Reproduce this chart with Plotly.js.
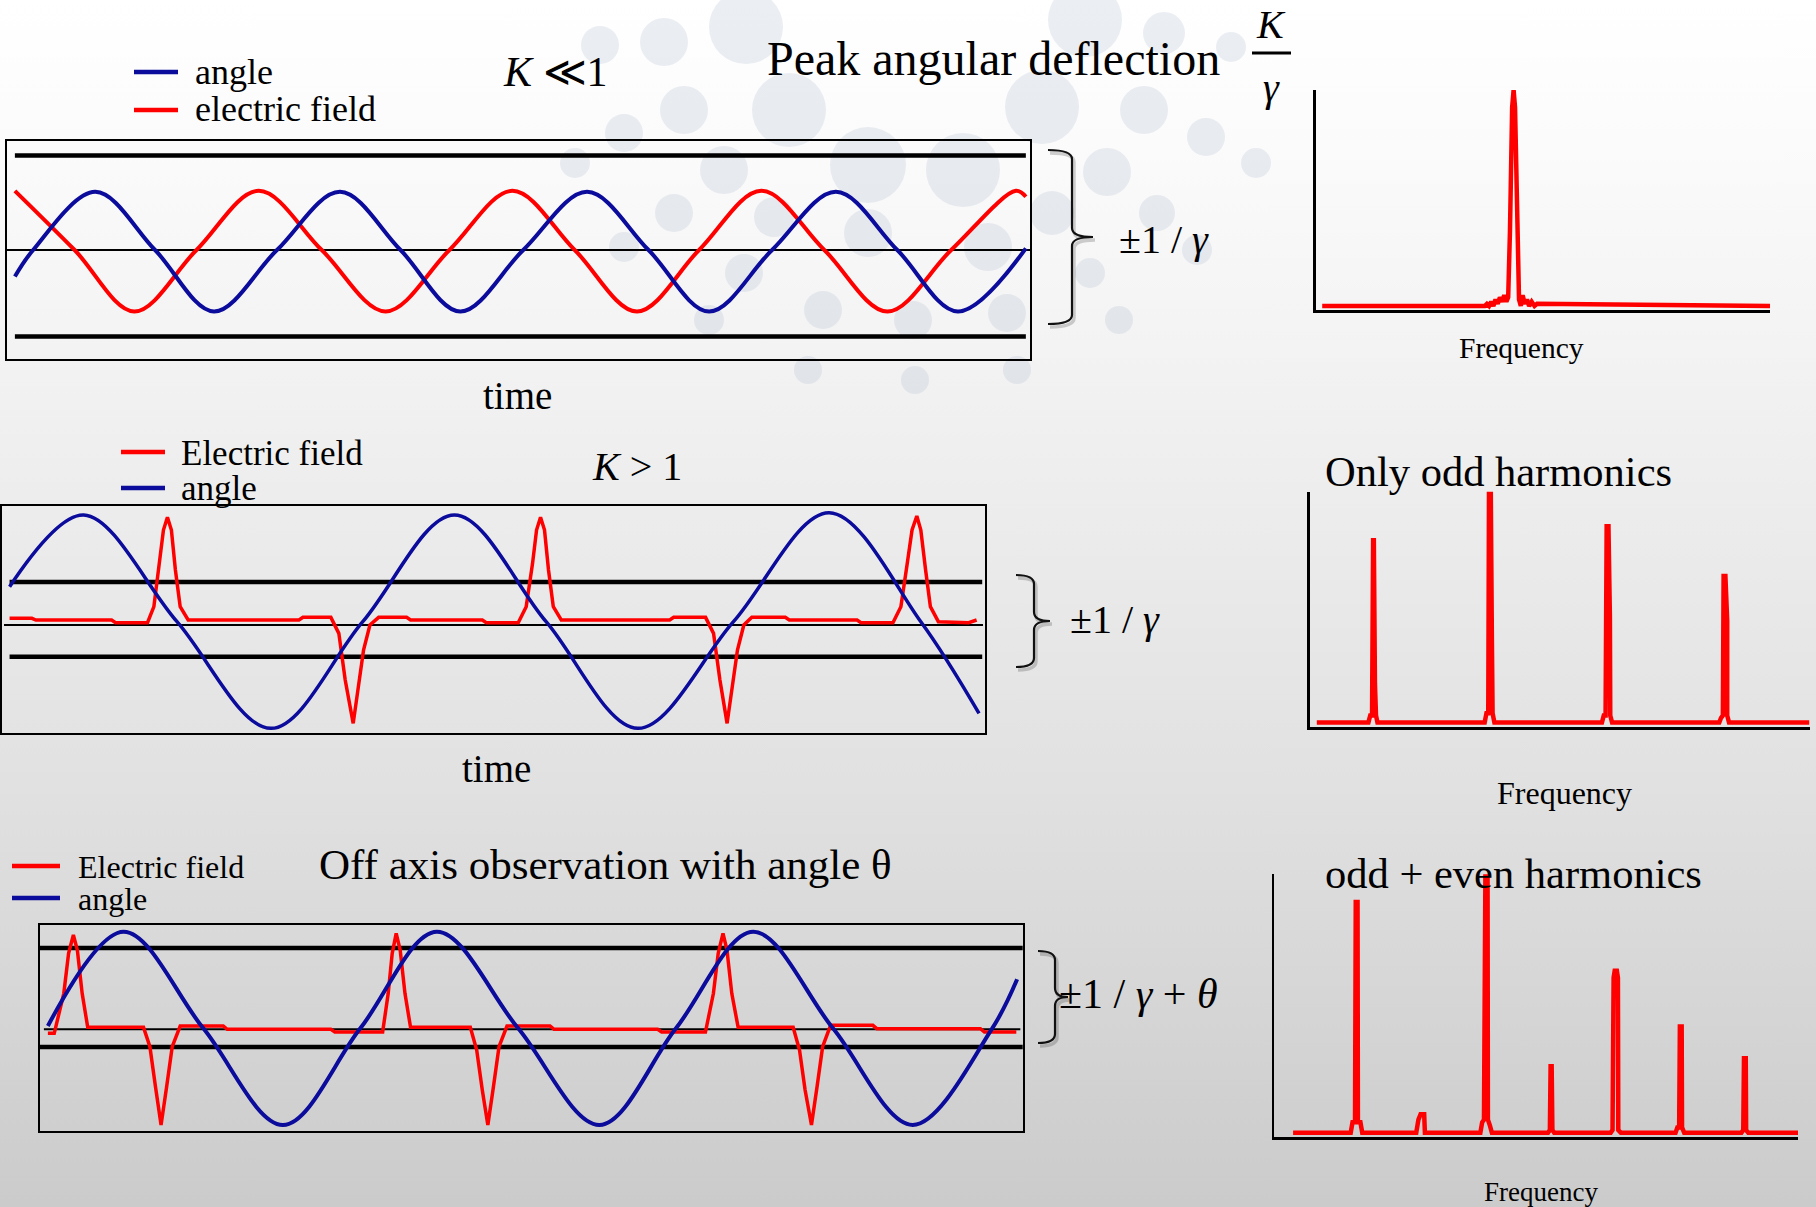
<!DOCTYPE html>
<html>
<head>
<meta charset="utf-8">
<script src="https://cdn.plot.ly/plotly-3.0.1.min.js"></script>
<style>
  html, body { margin: 0; padding: 0; }
  #chart {
    width: 1816px; height: 1207px;
    background: linear-gradient(to bottom, #ffffff 0%, #fbfbfb 12%, #f0f0f0 35%, #e1e1e1 65%, #cbcbcb 100%);
  }
</style>
</head>
<body>
<div id="chart"></div>
<script>
// ---------- Panel 1: K << 1, angle and field are both sinusoidal ----------
const p1AngleT = [0.18, 0.40, 1.15, 1.87, 2.58, 3.34, 4.10, 4.83, 5.55, 6.31, 7.08, 7.82, 8.55, 9.31, 10.08, 10.82, 11.55, 12.37];
const p1AngleV = [-0.80, 0, 1.75, 0, -1.85, 0, 1.75, 0, -1.85, 0, 1.75, 0, -1.85, 0, 1.75, 0, -1.85, 0.05];
const p1FieldT = [0.18, 0.90, 1.62, 2.37, 3.12, 3.88, 4.65, 5.42, 6.18, 6.93, 7.68, 8.43, 9.18, 9.94, 10.70, 11.47, 12.25, 12.37];
const p1FieldV = [1.78, 0, -1.85, 0, 1.78, 0, -1.85, 0, 1.78, 0, -1.85, 0, 1.78, 0, -1.85, 0, 1.78, 1.60];
const p1Bounds = [2.84, -2.60];          // ±1/γ cone
const p1BoundSpan = [0.18, 12.37];
const p1Center = 0;
const p1CenterSpan = [0.08, 12.42];

// ---------- Panel 2: K > 1, field concentrated in short pulses ----------
const p2AngleT = [0.12, 1.05, 2.22, 3.40, 4.55, 5.70, 6.85, 8.00, 9.20, 10.40, 11.55, 12.28];
const p2AngleV = [1.05, 3.20, 0, -3.20, 0, 3.20, 0, -3.20, 0, 3.27, 0, -2.75];
const p2FieldT = [0.12, 0.40, 0.45, 1.40, 1.45, 1.85, 1.93, 2.00, 2.05, 2.10, 2.15, 2.20, 2.26, 2.36,
  3.75, 3.80, 4.15, 4.25, 4.33, 4.43, 4.50, 4.56, 4.64, 4.75, 5.10, 5.15, 6.05, 6.10, 6.50,
  6.60, 6.68, 6.73, 6.78, 6.83, 6.88, 6.94, 7.04, 8.40, 8.45, 8.85, 8.95, 9.03, 9.12, 9.19,
  9.25, 9.33, 9.43, 9.85, 9.90, 10.75, 10.80, 11.20, 11.30, 11.38, 11.44, 11.50, 11.55, 11.61,
  11.67, 11.77, 12.15, 12.25];
const p2FieldV = [0.10, 0.10, 0.05, 0.05, -0.03, -0.03, 0.45, 1.75, 2.75, 3.13, 2.75, 1.55, 0.45, 0.05,
  0.05, 0.13, 0.13, -0.35, -1.75, -3.05, -1.95, -0.85, -0.10, 0.13, 0.13, 0.05, 0.05, -0.03, -0.03,
  0.45, 1.75, 2.75, 3.13, 2.75, 1.55, 0.45, 0.05, 0.05, 0.13, 0.13, -0.35, -1.75, -3.05, -1.95,
  -0.85, -0.10, 0.13, 0.13, 0.05, 0.05, -0.03, -0.03, 0.45, 1.75, 2.75, 3.17, 2.75, 1.55,
  0.45, 0.00, -0.03, 0.05];
const p2Bounds = [1.19, -1.05];
const p2BoundSpan = [0.12, 12.32];
const p2Center = -0.10;
const p2CenterSpan = [0.05, 12.33];

// ---------- Panel 3: off-axis observation at angle θ ----------
const p3AngleT = [0.60, 1.55, 2.55, 3.55, 4.52, 5.48, 6.50, 7.52, 8.48, 9.45, 10.45, 11.45, 12.44, 12.76];
const p3AngleV = [0.10, 2.93, 0.03, -2.87, 0.03, 2.93, 0.03, -2.87, 0.03, 2.93, 0.03, -2.87, 0.0, 1.50];
const p3FieldT = [0.60, 0.68, 0.80, 0.86, 0.92, 0.97, 1.03, 1.10, 1.80, 1.88, 1.95, 2.02, 2.09, 2.16, 2.26,
  2.80, 2.85, 4.15, 4.20, 4.80, 4.87, 4.92, 4.97, 5.02, 5.08, 5.15, 5.90, 5.98, 6.05, 6.12, 6.19,
  6.26, 6.36, 6.90, 6.95, 8.25, 8.30, 8.85, 8.95, 9.01, 9.07, 9.12, 9.18, 9.26, 9.95, 10.03,
  10.10, 10.18, 10.25, 10.32, 10.42, 10.95, 11.00, 12.30, 12.35, 12.75];
const p3FieldV = [-0.12, -0.12, 1.08, 2.28, 2.83, 2.38, 1.08, 0.06, 0.06, -0.52, -1.72, -2.87, -1.72, -0.52, 0.10,
  0.10, 0.00, 0.00, -0.08, -0.08, 1.08, 2.28, 2.88, 2.38, 1.08, 0.06, 0.06, -0.62, -1.82, -2.87, -1.72,
  -0.52, 0.10, 0.10, 0.00, 0.00, -0.08, -0.08, 1.08, 2.28, 2.88, 2.38, 1.08, 0.06, 0.06, -0.62,
  -1.82, -2.87, -1.72, -0.52, 0.12, 0.12, 0.02, 0.02, -0.08, -0.08];
const p3Bounds = [2.44, -0.53];         // ±(1/γ + θ) window
const p3BoundSpan = [0.48, 12.88];
const p3Center = 0;
const p3CenterSpan = [0.55, 12.80];

// ---------- Spectra ----------
const s1Freq = [2.00, 6.50, 6.56, 6.62, 6.68, 6.74, 6.80, 6.86, 6.92, 6.98, 7.04, 7.10, 7.15, 7.20, 7.26, 7.30,
  7.34, 7.40, 7.45, 7.50, 7.55, 7.61, 7.67, 7.73, 7.80, 7.88, 7.95, 14.40];
const s1Amp = [0, 0, 0.01, 0.0, 0.02, 0.0, 0.03, 0.01, 0.04, 0.02, 0.05, 0.02, 0.04, 0.35, 0.92, 1.0,
  0.92, 0.35, 0.03, 0.0, 0.05, 0.01, 0.03, 0.0, 0.02, 0.0, 0.01, 0];

const s2Freq = [1.85, 3.28, 3.33, 3.38, 3.41, 3.43, 3.46, 3.49, 3.53,
  6.50, 6.55, 6.60, 6.62, 6.67, 6.70, 6.72, 6.77,
  9.75, 9.80, 9.85, 9.88, 9.93, 9.97, 9.98, 10.03,
  13.00, 13.05, 13.10, 13.12, 13.17, 13.22, 13.22, 13.27, 15.50];
const s2Amp = [0, 0, 0.03, 0.03, 0.79, 0.79, 0.17, 0.03, 0,
  0, 0.04, 0.04, 1.0, 1.0, 0.37, 0.04, 0,
  0, 0.03, 0.03, 0.85, 0.85, 0.46, 0.03, 0,
  0, 0.02, 0.03, 0.635, 0.635, 0.44, 0.03, 0, 0];

const s3Freq = [1.20, 2.80, 2.85, 2.92, 2.94, 2.99, 3.00, 3.07, 3.12,
  4.62, 4.68, 4.74, 4.84, 4.86,
  6.40, 6.45, 6.50, 6.54, 6.60, 6.61, 6.66, 6.72,
  8.28, 8.33, 8.35, 8.38, 8.40, 8.45,
  10.02, 10.07, 10.10, 10.13, 10.19, 10.22, 10.23, 10.30,
  11.82, 11.87, 11.92, 11.94, 11.99, 12.00, 12.06,
  13.65, 13.70, 13.72, 13.77, 13.78, 13.84, 15.22];
const s3Amp = [0, 0, 0.04, 0.04, 0.893, 0.893, 0.04, 0.04, 0,
  0, 0.05, 0.071, 0.071, 0,
  0, 0.04, 0.05, 1.0, 1.0, 0.05, 0.03, 0,
  0, 0.01, 0.257, 0.257, 0.01, 0,
  0, 0.01, 0.60, 0.627, 0.627, 0.60, 0.01, 0,
  0, 0.02, 0.02, 0.411, 0.411, 0.02, 0,
  0, 0.01, 0.288, 0.288, 0.01, 0, 0];

// ---------- Page geometry helpers (pixel -> paper) ----------
const W = 1816, H = 1207;
const PX = x => x / W;
const PY = y => 1 - y / H;
const BLUE = '#0b0b9c', RED = '#ff0000';
const SERIF = 'Liberation Serif, Times New Roman, serif';

function line(xa, ya, x, y, color, width, shape) {
  return { type: 'scatter', mode: 'lines', x, y, xaxis: xa, yaxis: ya, hoverinfo: 'skip',
    line: { color, width, shape: shape || 'linear', smoothing: 1 } };
}
function guides(xa, ya, bounds, span, center, cspan) {
  return [
    line(xa, ya, span, [bounds[0], bounds[0]], '#000', 4.5),
    line(xa, ya, span, [bounds[1], bounds[1]], '#000', 4.5),
    line(xa, ya, cspan, [center, center], '#000', 2)
  ];
}

const traces = [
  ...guides('x', 'y', p1Bounds, p1BoundSpan, p1Center, p1CenterSpan),
  line('x', 'y', p1FieldT, p1FieldV, RED, 4, 'spline'),
  line('x', 'y', p1AngleT, p1AngleV, BLUE, 4, 'spline'),

  ...guides('x2', 'y2', p2Bounds, p2BoundSpan, p2Center, p2CenterSpan),
  line('x2', 'y2', p2FieldT, p2FieldV, RED, 3.5),
  line('x2', 'y2', p2AngleT, p2AngleV, BLUE, 3.5, 'spline'),

  ...guides('x3', 'y3', p3Bounds, p3BoundSpan, p3Center, p3CenterSpan),
  line('x3', 'y3', p3FieldT, p3FieldV, RED, 3.5),
  line('x3', 'y3', p3AngleT, p3AngleV, BLUE, 4, 'spline'),

  line('x4', 'y4', s1Freq, s1Amp, RED, 4.5),
  line('x5', 'y5', s2Freq, s2Amp, RED, 4.5),
  line('x6', 'y6', s3Freq, s3Amp, RED, 4.5)
];

// axis builders: framed time panels and L-shaped spectrum panels
function boxAxis(d0, d1, range, anchor, isY) {
  return { domain: isY ? [PY(d1), PY(d0)] : [PX(d0), PX(d1)], range, anchor,
    showline: true, mirror: true, linecolor: '#000', linewidth: 2,
    showgrid: false, zeroline: false, showticklabels: false, ticks: '', fixedrange: true };
}
function lAxis(d0, d1, range, anchor, isY) {
  return { domain: isY ? [PY(d1), PY(d0)] : [PX(d0), PX(d1)], range, anchor,
    showline: true, mirror: false, linecolor: '#000', linewidth: 2.5,
    showgrid: false, zeroline: false, showticklabels: false, ticks: '', fixedrange: true };
}

// decorative bubbles behind the top panel (cx, cy, r in px)
const bubbles = [[746,27,37],[664,42,24],[600,45,19],[1085,20,37],[1164,33,21],[1231,47,15],
  [789,110,37],[684,110,24],[624,133,19],[1042,107,37],[1144,110,24],[1206,137,19],[1256,163,15],
  [868,165,38],[963,170,37],[724,170,24],[1107,172,24],[575,163,15],
  [674,213,19],[774,217,20],[868,233,24],[1052,213,22],[1157,213,18],[624,247,15],[988,247,24],[1197,250,15],
  [744,273,19],[1090,273,15],[823,310,19],[913,320,19],[1007,313,19],[1119,320,14],[709,320,15],
  [808,370,14],[915,380,14],[1017,370,14]];

const shapes = bubbles.map(([cx, cy, r]) => ({
  type: 'circle', xref: 'paper', yref: 'paper', layer: 'below',
  x0: PX(cx - r), x1: PX(cx + r), y0: PY(cy + r), y1: PY(cy - r),
  fillcolor: 'rgba(172,185,205,0.24)', line: { width: 0 }
}));

function seg(x0, x1, y, color, width) {
  return { type: 'line', xref: 'paper', yref: 'paper', x0: PX(x0), x1: PX(x1), y0: PY(y), y1: PY(y),
    line: { color, width } };
}
// legend swatches
shapes.push(seg(134, 178, 72, BLUE, 4.5), seg(134, 178, 110, RED, 4.5));
shapes.push(seg(121, 165, 452, RED, 4.5), seg(121, 165, 488, BLUE, 4.5));
shapes.push(seg(12, 60, 866, RED, 4.5), seg(12, 60, 898, BLUE, 4.5));
// fraction bar of K/γ
shapes.push(seg(1252, 1291, 53, '#000', 3));

// curly braces marking the angular window
function brace(x0, xv, xt, yT, yM, yB, r, color, width, dx, dy) {
  const P = (x, y) => `${PX(x + dx)},${PY(y + dy)}`;
  const path = `M ${P(x0, yT)} Q ${P(xv, yT)} ${P(xv, yT + r)} L ${P(xv, yM - r)} ` +
    `Q ${P(xv, yM)} ${P(xt, yM)} Q ${P(xv, yM)} ${P(xv, yM + r)} L ${P(xv, yB - r)} ` +
    `Q ${P(xv, yB)} ${P(x0, yB)}`;
  return { type: 'path', xref: 'paper', yref: 'paper', path, line: { color, width } };
}
[[1048, 1072, 1093, 150, 237, 324], [1016, 1034, 1050, 575, 621, 667], [1038, 1055, 1068, 951, 997, 1043]]
  .forEach(b => {
    shapes.push(brace(...b, 9, 'rgba(0,0,0,0.18)', 3.5, 2, 3));
    shapes.push(brace(...b, 9, '#111', 2.2, 0, 0));
  });

function txt(text, x, y, size, xanchor) {
  return { text, x: PX(x), y: PY(y), xref: 'paper', yref: 'paper', showarrow: false,
    xanchor: xanchor || 'left', yanchor: 'middle', font: { family: SERIF, size, color: '#000' } };
}
const annotations = [
  txt('angle', 193, 72, 36), txt('electric field', 193, 109, 36),
  txt('<i>K</i> ≪1', 501, 72, 42),
  txt('Peak angular deflection', 765, 58, 48),
  txt('<i>K</i>', 1271, 24, 40, 'center'), txt('<i>γ</i>', 1271, 87, 40, 'center'),
  txt('±1 / <i>γ</i>', 1117, 240, 40),
  txt('time', 517, 395, 39, 'center'),
  txt('Frequency', 1521, 348, 29.5, 'center'),

  txt('Electric field', 179, 453, 35), txt('angle', 179, 488, 35),
  txt('<i>K</i> > 1', 590, 466, 40),
  txt('±1 / <i>γ</i>', 1068, 619, 40),
  txt('time', 496, 768, 39, 'center'),
  txt('Only odd harmonics', 1323, 472, 42.5),
  txt('Frequency', 1564, 793, 32, 'center'),

  txt('Electric field', 76, 867, 32), txt('angle', 76, 899, 32),
  txt('Off axis observation with angle θ', 317, 864, 43),
  txt('±1 / <i>γ</i> + <i>θ</i>', 1057, 994, 42),
  txt('odd + even harmonics', 1323, 873, 42.5),
  txt('Frequency', 1541, 1192, 27, 'center')
];

const layout = {
  width: W, height: H, autosize: false,
  margin: { l: 0, r: 0, t: 0, b: 0, pad: 0 },
  paper_bgcolor: 'rgba(0,0,0,0)', plot_bgcolor: 'rgba(0,0,0,0)',
  showlegend: false,
  xaxis:  boxAxis(6.6, 1030, [0.08, 12.42], 'y'),
  yaxis:  boxAxis(141, 359, [-3.28, 3.28], 'x', true),
  xaxis2: boxAxis(2.4, 984.6, [0.03, 12.35], 'y2'),
  yaxis2: boxAxis(506, 732.7, [-3.33, 3.47], 'x2', true),
  xaxis3: boxAxis(39.9, 1022.7, [0.50, 12.83], 'y3'),
  yaxis3: boxAxis(925, 1131, [-3.05, 3.13], 'x3', true),
  xaxis4: lAxis(1315.7, 1770, [1.82, 14.4], 'y4'),
  yaxis4: lAxis(90, 310, [-0.0185, 1.0], 'x4', true),
  xaxis5: lAxis(1309.6, 1809.5, [1.65, 15.5], 'y5'),
  yaxis5: lAxis(491.7, 727, [-0.02, 1.0], 'x5', true),
  xaxis6: lAxis(1274, 1798, [0.67, 15.22], 'y6'),
  yaxis6: lAxis(874.3, 1137.3, [-0.018, 1.0], 'x6', true),
  shapes, annotations
};

Plotly.newPlot('chart', traces, layout, { staticPlot: true, displayModeBar: false });
</script>
</body>
</html>
